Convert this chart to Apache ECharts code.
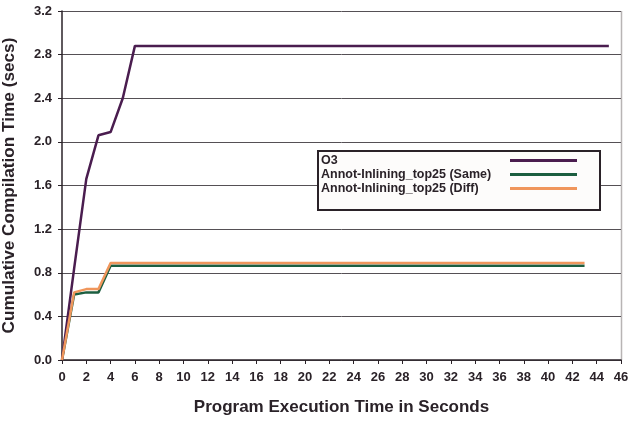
<!DOCTYPE html>
<html>
<head>
<meta charset="utf-8">
<script src="https://cdn.jsdelivr.net/npm/echarts@6/dist/echarts.min.js"></script>
<style>
  html, body { margin: 0; padding: 0; background: #fff; }
  #chart { width: 629px; height: 421px; }
</style>
</head>
<body>
<div id="chart"></div>
<script>
// Cumulative compilation time (secs) against program execution time (s)
const o3Times = [0, 1, 2, 3, 4, 5, 6, 45];
const o3Values = [0, 0.84, 1.66, 2.06, 2.09, 2.40, 2.88, 2.88];

const sameTimes = [0, 1, 2, 3, 4, 43];
const sameValues = [0, 0.60, 0.62, 0.62, 0.865, 0.865];

const diffTimes = [0, 1, 2, 3, 4, 43];
const diffValues = [0, 0.62, 0.65, 0.65, 0.89, 0.89];

const seriesNames = ['O3', 'Annot-Inlining_top25 (Same)', 'Annot-Inlining_top25 (Diff)'];
const seriesColors = ['#4a1d4f', '#1c5e40', '#f0965c'];

const xTitle = 'Program Execution Time in Seconds';
const yTitle = 'Cumulative Compilation Time (secs)';

function pairs(xs, ys) { return xs.map((x, i) => [x, ys[i]]); }

const ink = '#2a2228';
const font = 'Liberation Sans, Arial, sans-serif';

const chart = echarts.init(document.getElementById('chart'), null, { renderer: 'canvas' });
chart.setOption({
  animation: false,
  backgroundColor: '#ffffff',
  grid: { left: 62, right: 8, top: 11, bottom: 61, containLabel: false, outerBoundsMode: 'none' },
  xAxis: {
    type: 'value', min: 0, max: 46, interval: 2,
    name: xTitle, nameLocation: 'middle', nameGap: 39,
    nameTextStyle: { fontFamily: font, fontWeight: 'bold', fontSize: 17, color: ink },
    axisLine: { show: true, lineStyle: { color: ink, width: 1.5 } },
    axisTick: { show: true, length: 4, lineStyle: { color: ink } },
    axisLabel: { fontFamily: font, fontWeight: 'bold', fontSize: 13, color: ink, margin: 11 },
    splitLine: { show: false }
  },
  yAxis: {
    type: 'value', min: 0, max: 3.2, interval: 0.4,
    name: yTitle, nameLocation: 'middle', nameGap: 44,
    nameTextStyle: { fontFamily: font, fontWeight: 'bold', fontSize: 17.2, color: ink },
    axisLine: { show: true, lineStyle: { color: ink, width: 1.5 } },
    axisTick: { show: true, length: 4, lineStyle: { color: ink } },
    axisLabel: { fontFamily: font, fontWeight: 'bold', fontSize: 13, color: ink, margin: 10,
                 formatter: v => v.toFixed(1) },
    splitLine: { show: true, lineStyle: { color: '#555055', width: 1 } }
  },
  graphic: [{
    type: 'line', silent: true,
    shape: { x1: 621.5, y1: 11, x2: 621.5, y2: 360 },
    style: { stroke: '#b8b4b4', lineWidth: 1.5 }
  }],
  legend: {
    orient: 'vertical', left: 318, top: 151,
    align: 'right',
    backgroundColor: '#fdfcfb', borderColor: ink, borderWidth: 2,
    padding: [3, 23, 15, 3],
    itemGap: 1, itemWidth: 67, itemHeight: 3,
    icon: 'rect',
    formatter: name => '{t|' + name + '}',
    textStyle: {
      fontFamily: font, fontWeight: 'bold', fontSize: 12.5, color: ink,
      rich: { t: { width: 184, align: 'left', fontFamily: font, fontWeight: 'bold', fontSize: 12.5, color: ink, height: 15 } }
    },
    data: seriesNames
  },
  series: [
    { name: seriesNames[0], type: 'line', symbol: 'none', data: pairs(o3Times, o3Values),
      lineStyle: { color: seriesColors[0], width: 2.5 }, itemStyle: { color: seriesColors[0] }, z: 3 },
    { name: seriesNames[1], type: 'line', symbol: 'none', data: pairs(sameTimes, sameValues),
      lineStyle: { color: seriesColors[1], width: 2.5 }, itemStyle: { color: seriesColors[1] }, z: 2 },
    { name: seriesNames[2], type: 'line', symbol: 'none', data: pairs(diffTimes, diffValues),
      lineStyle: { color: seriesColors[2], width: 2.5 }, itemStyle: { color: seriesColors[2] }, z: 4 }
  ]
});
</script>
</body>
</html>
